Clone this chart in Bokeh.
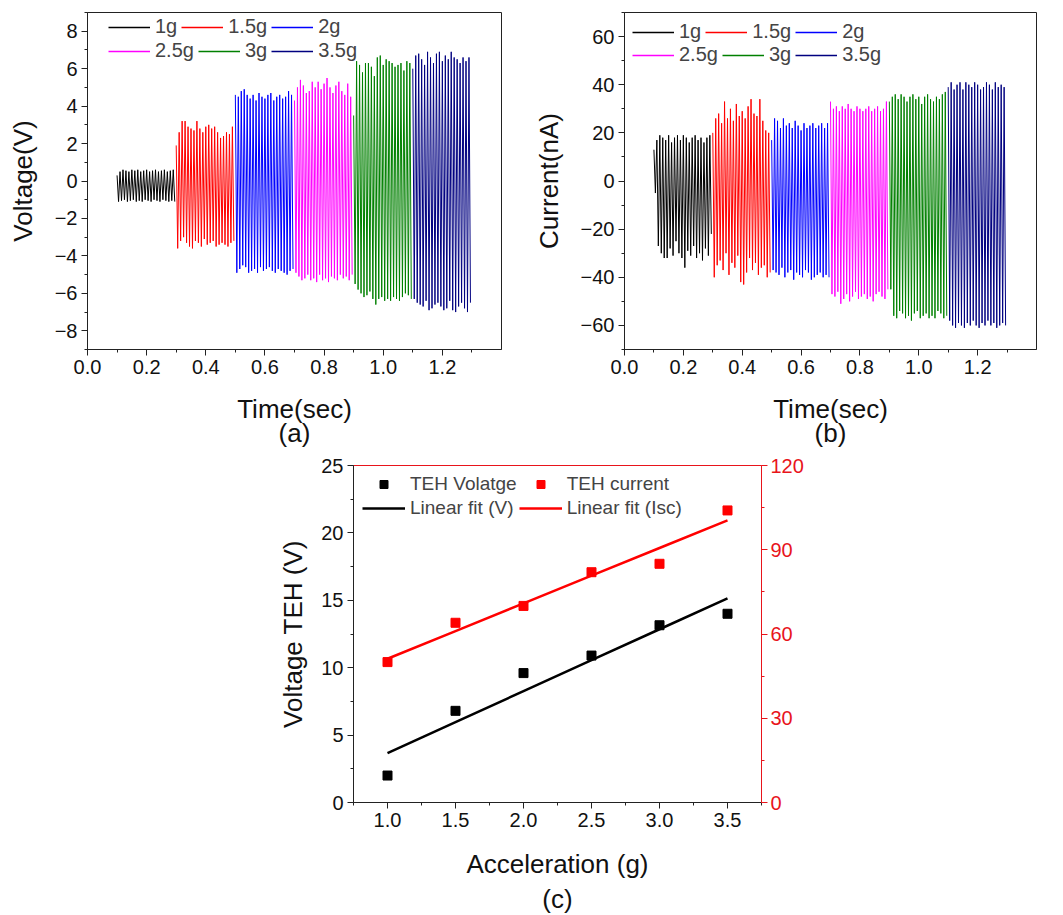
from bokeh.plotting import figure
from bokeh.models import (Legend, LegendItem, LinearAxis, Range1d, Title,
                          SingleIntervalTicker, FixedTicker, NumeralTickFormatter, Spacer)
from bokeh.layouts import column, row
from bokeh.embed import file_html
from bokeh.resources import INLINE
import numpy as np

FONT = "Liberation Sans"

# ---------------- data ----------------
labels = ["1g", "1.5g", "2g", "2.5g", "3g", "3.5g"]
colors = ["#000000", "#FF0000", "#0000FF", "#FF00FF", "#008000", "#000080"]
seg_start = [0.1, 0.3, 0.5, 0.7, 0.9, 1.1]   # s, start of each acceleration record
period = 0.01                                 # s, one cycle

# voltage (V): upper and lower peak of each cycle
volt_1g_hi = [0.3, 0.5, 0.6, 0.55, 0.5, 0.6, 0.55, 0.6, 0.5, 0.55, 0.6, 0.5, 0.55, 0.6, 0.5, 0.55, 0.6, 0.5, 0.55, 0.6]
volt_1g_lo = [-1.1, -1.05, -1.0, -1.1, -1.05, -1.0, -1.1, -1.05, -1.1, -1.0, -1.05, -1.1, -1.0, -1.05, -1.1, -1.0, -1.05, -1.1, -1.05, -1.1]
volt_15g_hi = [1.9, 2.6, 3.2, 3.2, 2.9, 2.8, 2.7, 3.2, 2.8, 2.6, 2.9, 3.0, 2.8, 2.9, 2.6, 2.3, 2.4, 2.6, 2.5, 2.9]
volt_15g_lo = [-3.6, -3.2, -3.0, -3.3, -3.5, -3.6, -3.2, -3.3, -3.5, -3.1, -3.4, -3.3, -3.2, -3.5, -3.4, -3.3, -3.4, -3.5, -3.3, -3.2]
volt_2g_hi = [4.6, 4.5, 4.8, 4.9, 4.6, 4.4, 4.6, 4.3, 4.7, 4.5, 4.4, 4.6, 4.7, 4.3, 4.5, 4.6, 4.4, 4.5, 4.8, 4.6]
volt_2g_lo = [-4.9, -4.7, -4.5, -4.6, -4.9, -4.8, -4.7, -4.9, -4.6, -4.8, -4.7, -4.6, -4.8, -4.9, -4.7, -4.8, -4.9, -5.0, -4.8, -4.7]
volt_25g_hi = [4.3, 5.0, 5.4, 5.1, 4.7, 4.8, 5.3, 5.0, 5.3, 4.9, 5.2, 5.5, 5.0, 4.7, 5.1, 5.3, 4.8, 4.6, 5.2, 4.5]
volt_25g_lo = [-4.9, -5.1, -5.3, -5.2, -5.0, -5.3, -5.2, -5.4, -5.0, -5.3, -5.2, -5.4, -5.1, -5.2, -5.3, -5.0, -5.2, -5.1, -5.3, -5.0]
volt_3g_hi = [3.5, 6.4, 6.2, 5.8, 6.3, 6.3, 6.1, 5.6, 6.6, 6.7, 6.2, 6.5, 6.4, 6.3, 6.1, 6.2, 6.3, 5.9, 6.4, 6.3]
volt_3g_lo = [-5.5, -5.8, -6.0, -6.2, -6.1, -5.9, -6.3, -6.6, -6.3, -6.2, -6.4, -6.3, -6.4, -6.2, -6.3, -6.4, -6.2, -6.0, -6.1, -6.3]
volt_35g_hi = [6.0, 6.7, 6.8, 6.5, 6.2, 6.9, 6.6, 6.3, 6.8, 6.9, 6.4, 6.7, 6.5, 6.9, 6.6, 6.5, 6.3, 6.6, 6.4, 6.6]
volt_35g_lo = [-6.3, -6.5, -6.6, -6.7, -6.4, -6.9, -6.8, -6.6, -6.5, -6.7, -6.9, -6.8, -6.4, -6.9, -7.0, -6.7, -6.5, -6.8, -7.0, -6.5]

# current (nA): upper and lower peak of each cycle
cur_1g_hi = [13, 17, 19, 18, 17, 19, 16, 18, 19, 17, 19, 18, 16, 18, 19, 17, 18, 16, 18, 19]
cur_1g_lo = [-5, -27, -30, -32, -32, -28, -31, -25, -30, -32, -36, -29, -31, -27, -32, -30, -33, -28, -31, -22]
cur_15g_hi = [20, 26, 28, 24, 33, 26, 30, 25, 32, 27, 29, 26, 31, 34, 28, 27, 34, 25, 21, 20]
cur_15g_lo = [-40, -35, -33, -37, -30, -39, -34, -36, -31, -42, -43, -38, -32, -37, -34, -39, -36, -35, -40, -38]
cur_2g_hi = [17, 26, 25, 22, 26, 23, 24, 22, 25, 23, 21, 24, 22, 23, 24, 22, 23, 24, 22, 24]
cur_2g_lo = [-37, -38, -39, -36, -40, -38, -37, -41, -38, -39, -40, -37, -38, -41, -40, -39, -38, -40, -39, -40]
cur_25g_hi = [33, 30, 31, 29, 31, 30, 32, 30, 29, 31, 30, 29, 30, 31, 29, 30, 31, 29, 30, 33]
cur_25g_lo = [-47, -48, -46, -51, -49, -47, -50, -48, -46, -49, -48, -47, -49, -48, -50, -47, -46, -48, -49, -45]
cur_3g_hi = [33, 35, 36, 34, 36, 35, 33, 35, 36, 34, 35, 32, 35, 36, 34, 33, 35, 34, 36, 37]
cur_3g_lo = [-45, -56, -57, -54, -55, -57, -56, -58, -55, -54, -57, -56, -55, -57, -56, -57, -54, -55, -57, -56]
cur_35g_hi = [39, 41, 38, 40, 41, 38, 41, 40, 39, 41, 40, 38, 39, 41, 40, 38, 41, 39, 40, 39]
cur_35g_lo = [-58, -60, -61, -59, -60, -61, -59, -60, -58, -60, -61, -59, -60, -58, -60, -59, -61, -60, -59, -60]

# panel (c)
accel = [1.0, 1.5, 2.0, 2.5, 3.0, 3.5]
teh_voltage = [2.0, 6.8, 9.6, 10.9, 13.15, 14.0]
teh_current = [50.0, 64.0, 70.0, 82.0, 85.0, 104.0]

volt_hi = [volt_1g_hi, volt_15g_hi, volt_2g_hi, volt_25g_hi, volt_3g_hi, volt_35g_hi]
volt_lo = [volt_1g_lo, volt_15g_lo, volt_2g_lo, volt_25g_lo, volt_3g_lo, volt_35g_lo]
cur_hi = [cur_1g_hi, cur_15g_hi, cur_2g_hi, cur_25g_hi, cur_3g_hi, cur_35g_hi]
cur_lo = [cur_1g_lo, cur_15g_lo, cur_2g_lo, cur_25g_lo, cur_3g_lo, cur_35g_lo]


def trace(start, hi, lo):
    t, y = [], []
    for i, (h, l) in enumerate(zip(hi, lo)):
        t += [start + i * period, start + (i + 0.5) * period]
        y += [h, l]
    return t, y


def style_axis(ax, label_size="20px"):
    ax.axis_line_color = "#222222"
    ax.major_tick_line_color = "#222222"
    ax.minor_tick_line_color = "#222222"
    ax.major_tick_in = 0
    ax.major_tick_out = 6
    ax.minor_tick_in = 0
    ax.minor_tick_out = 3
    ax.major_label_text_font = FONT
    ax.major_label_text_font_size = label_size
    ax.major_label_text_color = "#111111"
    ax.major_label_standoff = 4
    ax.axis_label_text_font = FONT
    ax.axis_label_text_font_size = "26px"
    ax.axis_label_text_font_style = "normal"
    ax.axis_label_text_color = "#111111"


def tag_title(text, standoff):
    return Title(text=text, align="center", standoff=standoff,
                 text_font=FONT, text_font_size="26px", text_font_style="normal",
                 text_color="#111111")


def signal_panel(hi_sets, lo_sets, ylab, yr, yint, tag, legend_pos, mleft, mright):
    p = figure(width=mleft + 414 + mright, height=447, x_range=Range1d(0, 1.4), y_range=Range1d(-yr, yr),
               output_backend="svg", toolbar_location=None,
               min_border_left=mleft, min_border_right=mright, min_border_top=12, min_border_bottom=98)
    p.grid.visible = False
    p.outline_line_color = "#222222"
    p.outline_line_alpha = 1
    p.xaxis.ticker = SingleIntervalTicker(interval=0.2, num_minor_ticks=2)
    p.xaxis.formatter = NumeralTickFormatter(format="0.0")
    p.yaxis.ticker = SingleIntervalTicker(interval=yint, num_minor_ticks=2)
    p.xaxis.axis_label = "Time(sec)"
    p.yaxis.axis_label = ylab
    style_axis(p.xaxis[0])
    style_axis(p.yaxis[0])
    p.xaxis.axis_label_standoff = 17
    p.yaxis.axis_label_standoff = 14
    items = []
    for s, hi, lo, c, lab in zip(seg_start, hi_sets, lo_sets, colors, labels):
        t, y = trace(s, hi, lo)
        p.line(t, y, line_color=c, line_width=1)
        # legend-only key: a single missing point draws nothing in the plot area
        key = p.line([np.nan], [np.nan], line_color=c, line_width=1.5)
        items.append(LegendItem(label=lab, renderers=[key]))
    for k, (lx, ly) in enumerate(legend_pos):
        lg = Legend(items=items[3 * k:3 * k + 3], orientation="horizontal", location=(lx, ly),
                    padding=0, margin=0, spacing=4, glyph_width=42, glyph_height=20,
                    label_standoff=5, label_height=20,
                    label_text_font=FONT, label_text_font_size="20px",
                    border_line_color=None, background_fill_alpha=0)
        p.add_layout(lg)
    p.add_layout(tag_title(tag, -21), "below")
    return p


pa = signal_panel(volt_hi, volt_lo, "Voltage(V)", 9, 2, "(a)", [(21, 311), (21, 287)], 87, 29)
pb = signal_panel(cur_hi, cur_lo, "Current(nA)", 70, 20, "(b)", [(8, 306), (8, 283)], 92, 27)

# ---------------- panel (c) ----------------
pc = figure(width=560, height=468, x_range=Range1d(0.75, 3.75), y_range=Range1d(0, 25),
            output_backend="svg", toolbar_location=None,
            min_border_left=93, min_border_right=59, min_border_top=18, min_border_bottom=113)
pc.extra_y_ranges = {"cur": Range1d(0, 120)}
pc.grid.visible = False
pc.outline_line_color = None
pc.xaxis.ticker = SingleIntervalTicker(interval=0.5, num_minor_ticks=2)
pc.xaxis.formatter = NumeralTickFormatter(format="0.0")
pc.yaxis.ticker = SingleIntervalTicker(interval=5, num_minor_ticks=2)
pc.xaxis.axis_label = "Acceleration (g)"
pc.yaxis.axis_label = "Voltage TEH (V)"
style_axis(pc.xaxis[0])
style_axis(pc.yaxis[0])
pc.xaxis.axis_label_standoff = 19
pc.yaxis.axis_label_standoff = 10

right = LinearAxis(y_range_name="cur", ticker=SingleIntervalTicker(interval=30, num_minor_ticks=2))
style_axis(right)
for prop in ("axis_line_color", "major_tick_line_color", "minor_tick_line_color", "major_label_text_color"):
    setattr(right, prop, "#E8141B")
right.major_label_standoff = 3
pc.add_layout(right, "right")

top = LinearAxis(ticker=FixedTicker(ticks=[]), axis_line_color="#E8141B")
pc.add_layout(top, "above")

fit_v = np.polyfit(accel, teh_voltage, 1)
fit_i = np.polyfit(accel, teh_current, 1)
xa = np.array(accel)

r_vp = pc.scatter(accel, teh_voltage, marker="square", size=9, color="black")
r_ip = pc.scatter(accel, teh_current, marker="square", size=9, color="#FF0000", y_range_name="cur")
r_vf = pc.line(xa, np.polyval(fit_v, xa), line_color="black", line_width=2.5)
r_if = pc.line(xa, np.polyval(fit_i, xa), line_color="#FF0000", line_width=2.5, y_range_name="cur")

lgc = Legend(items=[LegendItem(label="TEH Volatge", renderers=[r_vp]),
                    LegendItem(label="TEH current", renderers=[r_ip]),
                    LegendItem(label="Linear fit (V)", renderers=[r_vf]),
                    LegendItem(label="Linear fit (Isc)", renderers=[r_if])],
             orientation="horizontal", ncols=2, location=(9, 283),
             padding=0, margin=0, spacing=2, glyph_width=43, glyph_height=20,
             label_standoff=5, label_height=20,
             label_text_font=FONT, label_text_font_size="19px",
             border_line_color=None, background_fill_alpha=0)
pc.add_layout(lgc)
pc.add_layout(tag_title("(c)", 0), "below")

layout = column(row(pa, pb), row(Spacer(width=260, height=468), pc))
open("out.html", "w").write(file_html(layout, INLINE, "TEH"))
